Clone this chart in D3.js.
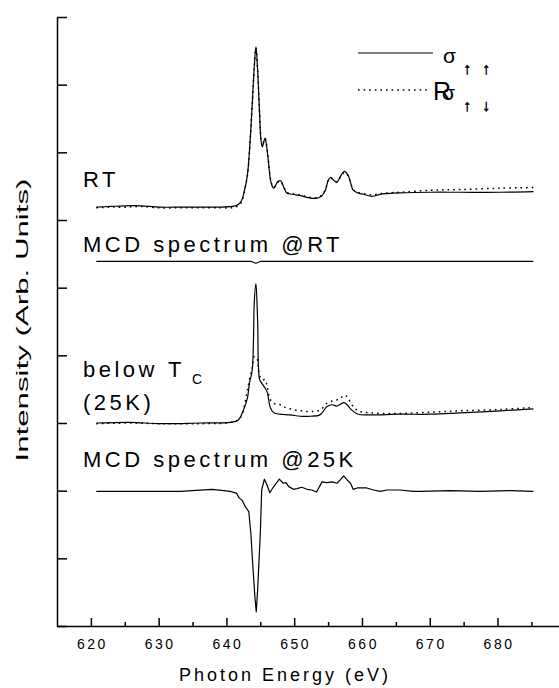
<!DOCTYPE html>
<html><head><meta charset="utf-8">
<script src="https://cdn.jsdelivr.net/npm/d3@7"></script>
<style>body{margin:0;background:#fff}svg{display:block}text{font-family:"Liberation Sans",Arial,sans-serif;fill:#000}</style>
</head><body>
<svg id="c" width="559" height="688"></svg>
<script>
// ---- data (energy in eV, intensity in arbitrary units, offsets included) ----
const energyRT = [620.8,622.8,625.1,627.3,630.2,633.2,636.1,639.1,640.8,641.6,642.2,642.6,643.1,643.5,643.8,644.1,644.35,644.6,644.9,645.1,645.3,645.5,645.7,645.9,646.2,646.5,646.8,647.0,647.3,647.6,648.0,648.4,648.9,649.7,650.9,652.1,653.3,654.0,654.6,655.0,655.4,655.8,656.3,656.8,657.4,657.9,658.3,658.7,659.4,660.2,661.5,662.7,663.7,665.6,670.1,674.5,680.4,685.3];
const rtParallel = [6.19,6.20,6.21,6.21,6.19,6.19,6.19,6.19,6.20,6.22,6.28,6.41,6.67,7.18,7.70,8.25,8.56,8.22,7.55,7.18,7.08,7.15,7.21,7.11,6.86,6.59,6.49,6.47,6.52,6.57,6.58,6.50,6.40,6.38,6.36,6.33,6.32,6.35,6.44,6.58,6.63,6.59,6.56,6.64,6.72,6.67,6.56,6.44,6.40,6.38,6.35,6.38,6.39,6.40,6.41,6.41,6.41,6.42];
const rtAnti = [6.18,6.19,6.19,6.20,6.18,6.18,6.18,6.18,6.18,6.20,6.26,6.40,6.66,7.17,7.70,8.24,8.54,8.22,7.56,7.19,7.10,7.16,7.21,7.12,6.87,6.61,6.50,6.48,6.52,6.56,6.57,6.50,6.41,6.39,6.37,6.34,6.33,6.36,6.45,6.58,6.62,6.59,6.56,6.63,6.70,6.66,6.56,6.45,6.41,6.39,6.37,6.39,6.40,6.41,6.44,6.45,6.47,6.48];

const energyMcdRT = [620.8,640.0,643.6,644.35,645.1,660.0,685.3];
const mcdRT = [5.39,5.39,5.39,5.36,5.39,5.39,5.39];

const energy25KPar = [620.8,625.8,630.2,636.1,640.6,641.7,642.5,643.1,643.4,643.8,644.0,644.1,644.35,644.6,644.9,645.2,645.6,646.0,646.5,647.0,647.9,649.4,650.9,652.4,653.8,654.8,655.6,656.3,657.3,657.8,658.5,659.4,661.2,665.6,670.1,674.5,680.4,685.3];
const k25Parallel = [3.00,3.01,2.99,3.00,3.01,3.04,3.19,3.37,3.59,3.78,4.28,4.77,5.06,4.52,3.64,3.59,3.53,3.46,3.22,3.15,3.13,3.12,3.10,3.10,3.12,3.24,3.27,3.25,3.30,3.27,3.19,3.13,3.12,3.13,3.13,3.15,3.18,3.21];
const energy25KAnti = [620.8,625.8,630.2,636.1,640.6,642.0,643.0,643.4,643.8,644.1,644.5,644.8,645.2,645.7,646.0,646.5,647.2,647.9,648.4,649.4,650.9,652.4,653.8,654.8,655.8,656.8,657.3,657.8,658.5,659.4,661.2,665.6,670.1,674.5,680.4,685.3];
const k25Anti = [2.99,3.00,2.99,2.99,3.01,3.07,3.44,3.64,3.81,3.98,3.96,3.74,3.64,3.64,3.54,3.34,3.28,3.27,3.24,3.21,3.18,3.17,3.19,3.29,3.33,3.36,3.41,3.39,3.27,3.18,3.15,3.14,3.16,3.18,3.20,3.23];

const energyMcd25K = [620.8,633.2,637.9,640.6,641.5,641.9,642.3,642.8,643.3,643.6,643.9,644.2,644.4,644.6,645.0,645.2,645.6,646.0,646.4,646.9,647.8,648.4,648.8,649.2,649.9,650.4,651.1,651.9,652.6,653.3,654.1,654.8,655.6,656.3,656.8,657.3,657.8,658.3,658.7,659.3,660.0,660.7,661.7,662.7,663.7,665.6,667.6,668.6,673.0,677.4,681.9,685.3];
const mcd25K = [1.99,1.99,2.02,1.99,1.96,1.89,1.86,1.76,1.69,1.37,0.88,0.43,0.21,0.53,1.37,2.01,2.17,2.08,1.97,2.05,2.17,2.11,2.12,2.06,2.02,2.03,2.05,2.02,2.01,1.98,2.13,2.12,2.13,2.11,2.16,2.22,2.16,2.11,2.02,2.04,2.04,2.04,2.01,1.99,2.01,2.01,1.99,1.99,2.00,1.99,2.00,1.99];

const xMajorTicks = [620,630,640,650,660,670,680];
const xMinorTicks = [625,635,645,655,665,675,685];
const yTicks = [0,1,2,3,4,5,6,7,8,9];

// ---- layout ----
const svg = d3.select("#c");
const x = d3.scaleLinear().domain([615,690]).range([57,565.3]);
const y = d3.scaleLinear().domain([0,9]).range([626,17]);

const line = d3.line().x(d=>x(d[0])).y(d=>y(d[1])).curve(d3.curveCatmullRom.alpha(0.5));
const lineLin = d3.line().x(d=>x(d[0])).y(d=>y(d[1]));
const zip = (a,b)=>a.map((v,i)=>[v,b[i]]);

function drawLine(data, gen, dashed){
  svg.append("path").attr("d", gen(data)).attr("fill","none").attr("stroke","#000")
    .attr("stroke-width", dashed?1.5:1.2).attr("stroke-dasharray", dashed?"1.6,4":null)
    .attr("stroke-linejoin","round");
}
drawLine(zip(energyRT, rtAnti), line, true);
drawLine(zip(energyRT, rtParallel), line, false);
drawLine(zip(energyMcdRT, mcdRT), lineLin, false);
drawLine(zip(energy25KAnti, k25Anti), line, true);
drawLine(zip(energy25KPar, k25Parallel), line, false);
drawLine(zip(energyMcd25K, mcd25K), lineLin, false);

// axes
const gx = svg.append("g").attr("transform","translate(0,626)")
  .call(d3.axisBottom(x).tickValues(xMajorTicks).tickSizeInner(-8).tickSizeOuter(0).tickPadding(13).tickFormat(d3.format("d")));
gx.select(".domain").attr("stroke-width",1.5);
gx.selectAll(".tick line").attr("stroke-width",1.5);
gx.selectAll(".tick text").attr("font-size",14).attr("letter-spacing","2.5px").attr("dx","1px")
  .attr("font-family","Liberation Sans, Arial, sans-serif");
const gxm = svg.append("g").attr("transform","translate(0,626)")
  .call(d3.axisBottom(x).tickValues(xMinorTicks).tickSizeInner(-4).tickSizeOuter(0).tickFormat(""));
gxm.select(".domain").remove();
gxm.selectAll(".tick line").attr("stroke-width",1.5);

const gy = svg.append("g").attr("transform","translate(57,0)")
  .call(d3.axisLeft(y).tickValues(yTicks).tickSizeInner(-10).tickSizeOuter(0).tickFormat(""));
gy.select(".domain").attr("stroke-width",1.5);
gy.selectAll(".tick line").attr("stroke-width",1.5);

// titles
svg.append("text").attr("x",285).attr("y",681).attr("text-anchor","middle")
  .attr("font-size",18).attr("letter-spacing","3px").text("Photon Energy (eV)");
svg.append("text").attr("transform","translate(28,320) rotate(-90)").attr("text-anchor","middle")
  .attr("font-size",17).attr("textLength",283).attr("lengthAdjust","spacingAndGlyphs")
  .text("Intensity (Arb. Units)");

// spectrum labels
const lab = (g,tx,ty,s,fs,ls,ff)=>g.append("text").attr("x",tx).attr("y",ty).attr("font-size",fs||22)
  .attr("letter-spacing",(ls===undefined?3.5:ls)+"px").attr("font-family",ff||null).text(s);
lab(svg,83,187,"RT");
lab(svg,83,252,"MCD spectrum @RT");
lab(svg,83,377,"below");
lab(svg,168,377,"T");
lab(svg,192,384,"C",14,0);
lab(svg,83,410,"(25K)");
lab(svg,83,467,"MCD spectrum @25K");

// legend
svg.append("line").attr("x1",358).attr("x2",433).attr("y1",53).attr("y2",53).attr("stroke","#000").attr("stroke-width",1.2);
svg.append("line").attr("x1",358).attr("x2",430).attr("y1",90).attr("y2",90).attr("stroke","#000").attr("stroke-width",1.5).attr("stroke-dasharray","1.6,4");
lab(svg,443,63,"σ",21,0);
lab(svg,433,100,"R",25,0);
lab(svg,442,100,"σ",21,0);
const AF = "Liberation Sans";
[[463,74,"↑"],[482,74,"↑"],[463,111,"↑"],[482,111,"↓"]].forEach(a=>
  lab(svg,a[0],a[1],a[2],16,0,AF).attr("stroke","#000").attr("stroke-width",0.5));
</script>
</body></html>
